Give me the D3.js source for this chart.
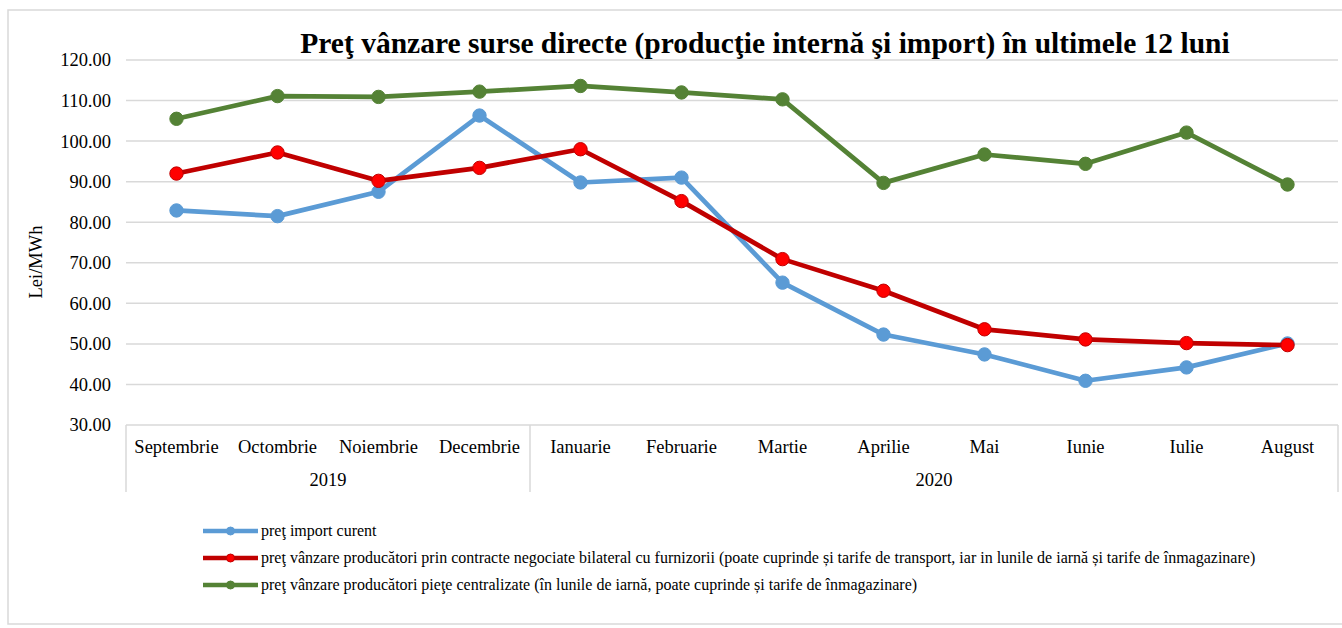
<!DOCTYPE html>
<html>
<head>
    <meta charset="utf-8">
    <title>Preț vânzare surse directe</title>
    <script src="https://d3js.org/d3.v7.min.js"></script>
    <style>
        body { margin: 0; background: #fff; }
    </style>
</head>
<body>
    <div id="chart"></div>
    <script>
        // Data (Lei/MWh)
        const months = ["Septembrie", "Octombrie", "Noiembrie", "Decembrie", "Ianuarie", "Februarie",
                        "Martie", "Aprilie", "Mai", "Iunie", "Iulie", "August"];
        const years = ["2019", "2020"];
        const monthsPerYear = [4, 8];
        const importCurent = [82.9, 81.5, 87.5, 106.3, 89.8, 91.0, 65.1, 52.3, 47.4, 40.9, 44.2, 50.1];
        const bilateral = [92.0, 97.2, 90.2, 93.4, 98.0, 85.2, 70.9, 63.1, 53.6, 51.1, 50.2, 49.7];
        const centralizat = [105.5, 111.1, 110.9, 112.2, 113.6, 112.0, 110.3, 89.7, 96.7, 94.4, 102.1, 89.3];
        const yTicks = [30, 40, 50, 60, 70, 80, 90, 100, 110, 120];

        const series = [
            { name: "preţ import curent", values: importCurent, line: "#5B9BD5", fill: "#5B9BD5", stroke: "#5B9BD5" },
            { name: "preţ vânzare producători prin contracte negociate bilateral cu furnizorii (poate cuprinde și tarife de transport, iar in lunile de iarnă și tarife de înmagazinare)",
              values: bilateral, line: "#C00000", fill: "#FF0000", stroke: "#C00000" },
            { name: "preţ vânzare producători pieţe centralizate (în lunile de iarnă, poate cuprinde și tarife de înmagazinare)",
              values: centralizat, line: "#548235", fill: "#548235", stroke: "#548235" }
        ];

        const serif = "'Liberation Serif', 'Times New Roman', serif";
        const width = 1342, height = 628;
        const plotLeft = 126, plotRight = 1338, plotTop = 60, plotBottom = 425;

        const svg = d3.select("#chart")
            .append("svg")
            .attr("width", width)
            .attr("height", height)
            .style("font-family", serif);

        // Outer chart border
        svg.append("rect")
            .attr("x", 8).attr("y", 10)
            .attr("width", 1345).attr("height", 614)
            .attr("fill", "none")
            .attr("stroke", "#D9D9D9")
            .attr("stroke-width", 1.5);

        const x = d3.scaleBand().domain(months).range([plotLeft, plotRight]).padding(0);
        const y = d3.scaleLinear().domain([30, 120]).range([plotBottom, plotTop]);
        const cx = m => x(m) + x.bandwidth() / 2;

        // Gridlines
        svg.append("g")
            .selectAll("line")
            .data(yTicks.slice(1))
            .enter()
            .append("line")
            .attr("x1", plotLeft).attr("x2", plotRight)
            .attr("y1", d => y(d)).attr("y2", d => y(d))
            .style("stroke", "#D9D9D9")
            .style("stroke-width", 1.5);

        // Y axis labels
        const yAxis = svg.append("g")
            .attr("transform", `translate(${plotLeft},0)`)
            .call(d3.axisLeft(y).tickValues(yTicks).tickFormat(d3.format(".2f")).tickSize(0).tickPadding(15));
        yAxis.select(".domain").remove();
        yAxis.selectAll("text")
            .style("font-family", serif)
            .style("font-size", "18.5px")
            .style("fill", "#000");

        svg.append("text")
            .attr("transform", "translate(42,262) rotate(-90)")
            .attr("text-anchor", "middle")
            .style("font-family", serif)
            .style("font-size", "18.5px")
            .text("Lei/MWh");

        // Category axis: months row and year row with separators
        svg.append("line")
            .attr("x1", plotLeft).attr("x2", plotRight)
            .attr("y1", plotBottom).attr("y2", plotBottom)
            .style("stroke", "#D9D9D9").style("stroke-width", 1.5);

        const axisG = svg.append("g");
        axisG.selectAll("text.month")
            .data(months)
            .enter()
            .append("text")
            .attr("class", "month")
            .attr("x", d => cx(d))
            .attr("y", 453)
            .attr("text-anchor", "middle")
            .style("font-family", serif)
            .style("font-size", "18.5px")
            .text(d => d);

        let start = 0;
        const yearGroups = years.map((yr, i) => {
            const first = months[start], last = months[start + monthsPerYear[i] - 1];
            start += monthsPerYear[i];
            return { yr, x0: x(first), x1: x(last) + x.bandwidth() };
        });

        axisG.selectAll("text.year")
            .data(yearGroups)
            .enter()
            .append("text")
            .attr("class", "year")
            .attr("x", d => (d.x0 + d.x1) / 2)
            .attr("y", 486)
            .attr("text-anchor", "middle")
            .style("font-family", serif)
            .style("font-size", "18.5px")
            .text(d => d.yr);

        const seps = [yearGroups[0].x0].concat(yearGroups.map(d => d.x1));
        axisG.selectAll("line.sep")
            .data(seps)
            .enter()
            .append("line")
            .attr("class", "sep")
            .attr("x1", d => d).attr("x2", d => d)
            .attr("y1", plotBottom).attr("y2", 492)
            .style("stroke", "#D9D9D9").style("stroke-width", 1.5);

        // Lines and markers
        const line = d3.line()
            .x((d, i) => cx(months[i]))
            .y(d => y(d));

        series.forEach(s => {
            const g = svg.append("g");
            g.append("path")
                .datum(s.values)
                .attr("d", line)
                .attr("fill", "none")
                .attr("stroke", s.line)
                .attr("stroke-width", 4.7)
                .attr("stroke-linejoin", "round");
            g.selectAll("circle")
                .data(s.values)
                .enter()
                .append("circle")
                .attr("cx", (d, i) => cx(months[i]))
                .attr("cy", d => y(d))
                .attr("r", 6.7)
                .attr("fill", s.fill)
                .attr("stroke", s.stroke)
                .attr("stroke-width", 1);
        });

        // Title
        svg.append("text")
            .attr("x", 765)
            .attr("y", 53)
            .attr("text-anchor", "middle")
            .style("font-family", serif)
            .style("font-size", "29.5px")
            .style("font-weight", "bold")
            .text("Preţ vânzare surse directe (producţie internă şi import) în ultimele 12 luni");

        // Legend
        const legend = svg.append("g")
            .selectAll("g")
            .data(series)
            .enter()
            .append("g")
            .attr("transform", (d, i) => `translate(203,${531 + i * 27})`);
        legend.append("line")
            .attr("x1", 0).attr("x2", 55)
            .attr("y1", 0).attr("y2", 0)
            .attr("stroke", d => d.line)
            .attr("stroke-width", 4.7);
        legend.append("circle")
            .attr("cx", 27.5).attr("cy", 0).attr("r", 4)
            .attr("fill", d => d.fill)
            .attr("stroke", d => d.stroke);
        legend.append("text")
            .attr("x", 58)
            .attr("y", 5)
            .style("font-family", serif)
            .style("font-size", "16px")
            .text(d => d.name);
    </script>
</body>
</html>
